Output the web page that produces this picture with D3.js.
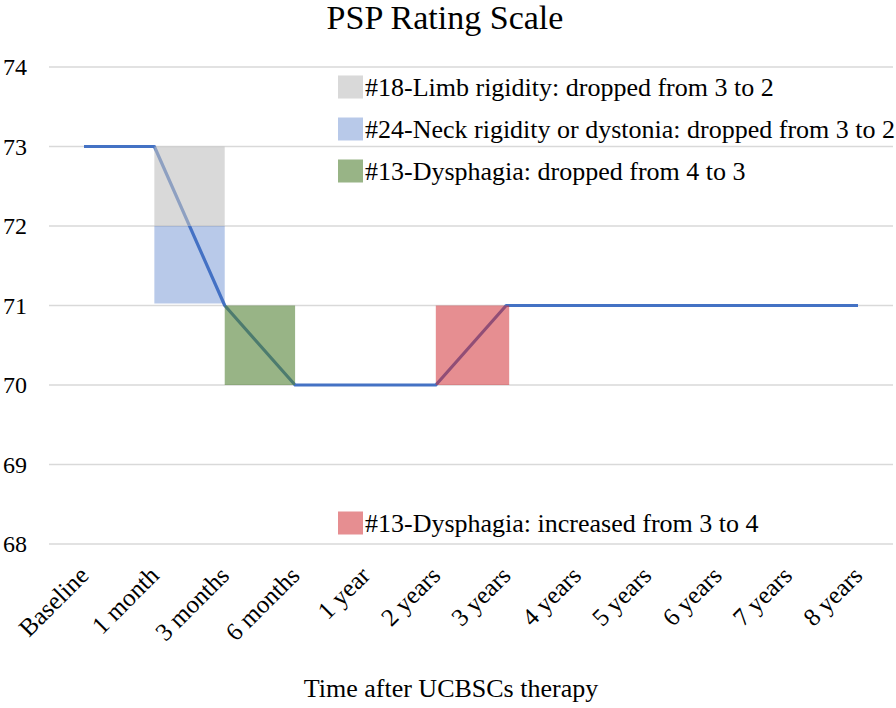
<!DOCTYPE html>
<html><head><meta charset="utf-8">
<script src="https://cdn.jsdelivr.net/npm/d3@7"></script>
<style>body{margin:0;background:#fff}</style>
</head><body><svg id="c" width="896" height="708"></svg>
<script>
const categories = ["Baseline","1 month","3 months","6 months","1 year","2 years","3 years","4 years","5 years","6 years","7 years","8 years"];
const scores = [73,73,71,70,70,70,71,71,71,71,71,71];
const yTicks = [68,69,70,71,72,73,74];
const changeLabels = ["#18-Limb rigidity: dropped from 3 to 2","#24-Neck rigidity or dystonia: dropped from 3 to 2","#13-Dysphagia: dropped from 4 to 3","#13-Dysphagia: increased from 3 to 4"];
const changeFrom = ["1 month","1 month","3 months","2 years"];
const changeTo = ["3 months","3 months","6 months","3 years"];
const changeHigh = [73,72,71,71];
const changeLow = [72,71,70,70];
const changeColors = ["rgba(191,191,191,0.6)","rgba(68,114,196,0.38)","rgba(84,130,53,0.6)","rgba(210,50,55,0.55)"];

const FONT = "'Liberation Serif', 'Times New Roman', 'DejaVu Serif', serif";
const svg = d3.select("#c");
const x = d3.scalePoint().domain(categories).range([84,858]);
const y = d3.scaleLinear().domain([68,74]).range([544,67]);

// gridlines
svg.append("g").selectAll("line").data(yTicks).join("line")
  .attr("x1",49).attr("x2",893).attr("y1",d=>y(d)).attr("y2",d=>y(d))
  .attr("stroke","#d9d9d9").attr("stroke-width",1.5);

// y labels
svg.append("g").selectAll("text").data(yTicks).join("text")
  .attr("x",27).attr("y",d=>y(d)+8).attr("text-anchor","end")
  .attr("font-family",FONT).attr("font-size",24).text(d=>d);

// line
const line = d3.line().x((d,i)=>x(categories[i])).y(d=>y(d));
svg.append("path").datum(scores).attr("d",line).attr("fill","none")
  .attr("stroke","#4472C4").attr("stroke-width",3.2).attr("stroke-linejoin","round");

// change rectangles
svg.append("g").selectAll("rect").data(changeLabels).join("rect")
  .attr("x",(d,i)=>x(changeFrom[i])).attr("width",(d,i)=>x(changeTo[i])-x(changeFrom[i])+(i==3?3:0))
  .attr("y",(d,i)=>y(changeHigh[i])).attr("height",(d,i)=>y(changeLow[i])-y(changeHigh[i])-(i==1?2:0))
  .attr("fill",(d,i)=>changeColors[i]);

// legend
const legendY = [87,129,171,523];
const lg = svg.append("g").selectAll("g").data(changeLabels).join("g")
  .attr("transform",(d,i)=>`translate(338,${legendY[i]})`);
lg.append("rect").attr("x",0).attr("y",-11.5).attr("width",25).attr("height",23)
  .attr("fill",(d,i)=>changeColors[i]);
lg.append("text").attr("x",27).attr("y",9).attr("font-family",FONT).attr("font-size",26).text(d=>d);

// x labels
svg.append("g").selectAll("text").data(categories).join("text")
  .attr("transform",d=>`translate(${x(d)+6},${577}) rotate(-45)`)
  .attr("text-anchor","end").attr("font-family",FONT).attr("font-size",25).text(d=>d);

// titles
svg.append("text").attr("x",445).attr("y",29).attr("text-anchor","middle")
  .attr("font-family",FONT).attr("font-size",34).text("PSP Rating Scale");
svg.append("text").attr("x",451).attr("y",697).attr("text-anchor","middle")
  .attr("font-family",FONT).attr("font-size",26).text("Time after UCBSCs therapy");
</script></body></html>
